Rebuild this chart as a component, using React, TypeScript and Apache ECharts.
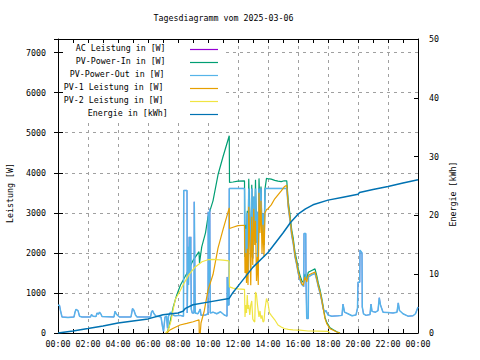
import React, { useEffect, useRef } from "react";
import * as echarts from "echarts";

type Pt = [number, number];

const chartTitle = "Tagesdiagramm vom 2025-03-06";
const leftAxisName = "Leistung [W]";
const rightAxisName = "Energie [kWh]";
const timeLabels = [
  "00:00", "02:00", "04:00", "06:00", "08:00", "10:00", "12:00",
  "14:00", "16:00", "18:00", "20:00", "22:00", "00:00",
];
const seriesNames = [
  "AC Leistung in [W]",
  "PV-Power-In in [W]",
  "PV-Power-Out in [W]",
  "PV-1 Leistung in [W]",
  "PV-2 Leistung in [W]",
  "Energie in [kWh]",
];
const seriesColors = ["#9400d3", "#009e73", "#56b4e9", "#e69f00", "#f0e442", "#0072b2"];

// x values are minutes since midnight
const pvOut: Pt[] = [
  [0, 690], [6, 690], [10, 560], [16, 400], [40, 390], [64, 400], [68, 520], [72, 590], [80, 560],
  [86, 420], [96, 400], [130, 400], [134, 460], [140, 420], [152, 410], [156, 500], [162, 470],
  [166, 520], [172, 470], [176, 410], [224, 400], [228, 540], [234, 470], [240, 430], [246, 400],
  [292, 400], [298, 610], [304, 560], [310, 450], [316, 400], [370, 400], [374, 520], [378, 560],
  [384, 480], [392, 420], [404, 410], [412, 400], [418, 160], [422, 40], [428, 400], [434, 420],
  [438, 120], [442, 420], [450, 520], [456, 460], [468, 430], [488, 440], [502, 420],
  [503, 3560], [516, 3560], [517, 500], [520, 2150], [522, 1200], [525, 2400], [528, 1500],
  [531, 2400], [533, 600], [537, 500], [544, 500], [545, 3275], [549, 500], [560, 480], [569, 600],
  [572, 440], [590, 450], [600, 480], [601, 3025], [604, 1000], [607, 3100], [609, 500], [620, 520],
  [635, 480], [650, 530], [665, 450], [676, 420], [677, 1400], [680, 700], [684, 700],
  [685, 3610], [746, 3610], [747, 2000], [751, 2600], [754, 1750], [757, 3000], [760, 1520],
  [763, 3610], [767, 2700], [771, 1890], [775, 3610], [779, 1860], [783, 3400], [787, 2450],
  [790, 3610], [794, 2250], [797, 3025], [801, 1750], [804, 3610], [808, 3000], [812, 3610],
  [816, 2440], [820, 2975], [824, 2200], [828, 3600], [834, 3610], [915, 3610], [921, 3150],
  [928, 2800], [935, 2430], [941, 2230], [948, 1900], [955, 1700], [961, 1490], [968, 1330],
  [975, 1210], [983, 1160], [984, 2485], [991, 2485], [992, 1300], [995, 360], [1001, 360],
  [1002, 1400], [1015, 1450], [1028, 1490], [1035, 1330], [1041, 1160], [1048, 1000], [1055, 800],
  [1061, 600], [1066, 520], [1072, 560], [1080, 450], [1095, 420], [1120, 430], [1136, 440],
  [1140, 720], [1146, 520], [1160, 480], [1176, 430], [1192, 450], [1198, 620], [1200, 1270],
  [1207, 1270], [1208, 2070], [1216, 2000], [1217, 650], [1222, 480], [1232, 440], [1248, 460],
  [1252, 720], [1256, 540], [1270, 520], [1280, 560], [1285, 880], [1290, 700], [1300, 520],
  [1320, 510], [1340, 500], [1356, 520], [1361, 750], [1366, 560], [1380, 480], [1400, 420],
  [1420, 430], [1430, 480], [1440, 650],
];

// AC power coincides with PV-Power-Out in the picture (drawn underneath)
const acPower: Pt[] = pvOut;

const pvIn: Pt[] = [
  [436, 0], [444, 150], [461, 650], [475, 950], [490, 1200], [515, 1485], [541, 1820], [564, 2030],
  [566, 1750], [575, 2150], [590, 2500], [600, 2900], [620, 3300], [640, 3950], [660, 4400],
  [685, 4925], [686, 3760], [700, 3770], [720, 3790], [746, 3800], [748, 1900], [751, 2700],
  [754, 1750], [757, 3050], [760, 1800], [763, 3850], [767, 2750], [771, 1890], [775, 3700],
  [779, 2050], [783, 3400], [787, 2475], [790, 3825], [794, 2250], [798, 2600], [801, 1750],
  [804, 3860], [808, 3050], [812, 3660], [816, 2440], [820, 2975], [824, 2200], [828, 3600],
  [834, 3860], [840, 3850], [846, 3850], [853, 3840], [867, 3810], [880, 3790], [893, 3780],
  [905, 3800], [915, 3800], [921, 3290], [928, 2950], [935, 2570], [941, 2360], [948, 2020],
  [955, 1815], [961, 1605], [968, 1440], [975, 1310], [981, 1265], [988, 1475], [995, 1350],
  [1001, 1515], [1015, 1560], [1028, 1600], [1035, 1430], [1041, 1250], [1048, 1080], [1055, 870],
  [1061, 650], [1068, 390], [1075, 265], [1088, 130], [1101, 80], [1115, 30], [1128, 0],
];

const pv1: Pt[] = [
  [436, 0], [444, 60], [461, 120], [488, 200], [515, 240], [541, 280], [564, 330], [565, 0],
  [569, 0], [572, 250], [585, 550], [600, 1070], [620, 1460], [640, 2120], [660, 2580],
  [685, 3125], [686, 2610], [700, 2640], [720, 2680], [746, 2690], [748, 1500], [751, 2000],
  [754, 1250], [757, 2100], [760, 1200], [763, 3150], [767, 2300], [771, 1190], [775, 2900],
  [779, 1700], [783, 3100], [787, 2200], [790, 2800], [794, 1300], [798, 1900], [801, 1200],
  [804, 3500], [808, 2500], [812, 3300], [816, 2000], [820, 2700], [824, 1900], [828, 3000],
  [834, 3080], [840, 3100], [846, 3150], [853, 3200], [867, 3350], [880, 3450], [893, 3550],
  [905, 3650], [915, 3690], [921, 3190], [928, 2860], [935, 2485], [941, 2275], [948, 1940],
  [955, 1735], [961, 1525], [968, 1360], [975, 1235], [981, 1190], [988, 1400], [995, 1275],
  [1001, 1440], [1015, 1485], [1028, 1525], [1035, 1360], [1041, 1190], [1048, 1025], [1055, 820],
  [1061, 610], [1068, 360], [1075, 235], [1088, 110], [1101, 70], [1115, 25], [1128, 0],
];

const pv2: Pt[] = [
  [430, 0], [440, 60], [452, 300], [461, 600], [470, 850], [488, 1050], [500, 1200], [523, 1450],
  [549, 1650], [576, 1780], [600, 1830], [620, 1840], [660, 1820], [684, 1800], [686, 1150],
  [700, 1120], [720, 1100], [746, 1090], [748, 400], [751, 700], [754, 500], [757, 950], [760, 600],
  [763, 700], [767, 450], [771, 700], [775, 800], [779, 350], [783, 300], [787, 275], [790, 1025],
  [794, 950], [798, 700], [801, 550], [804, 400], [808, 550], [812, 360], [816, 440], [820, 275],
  [824, 300], [828, 600], [834, 860], [840, 750], [846, 500], [853, 440], [867, 330], [880, 200],
  [893, 150], [905, 110], [915, 100], [921, 90], [940, 80], [968, 70], [1000, 50], [1040, 45],
  [1080, 40], [1088, 0],
];

const energy: Pt[] = [
  [0, 0], [60, 0.35], [120, 0.75], [180, 1.2], [240, 1.7], [300, 2.05], [360, 2.4], [420, 3.1],
  [480, 3.4], [500, 3.7], [510, 4.2], [540, 4.8], [600, 5.25], [684, 5.85], [700, 6.9], [728, 8.4],
  [780, 11.2], [840, 13.7], [900, 17.0], [930, 18.8], [960, 20.2], [990, 21.1], [1020, 21.8],
  [1080, 22.6], [1140, 23.1], [1200, 23.6], [1206, 23.9], [1260, 24.4], [1320, 24.9],
  [1380, 25.5], [1440, 26.05],
];

const powerMax = 7340;
const energyMax = 50;

const FONT = "'DejaVu Sans Mono', monospace";
const FS = 8.3;

export default function App() {
  const ref = useRef<HTMLDivElement>(null);

  useEffect(() => {
    if (!ref.current) return;
    const chart = echarts.init(ref.current, undefined, { renderer: "svg" });

    const gridLine = { show: true, lineStyle: { color: "#a0a0a0", type: [3, 4] as number[], width: 1 } };
    const black = { color: "#000", width: 1 };
    const lbl = { color: "#000", fontFamily: FONT, fontSize: FS };

    const dataSets = [acPower, pvIn, pvOut, pv1, pv2, energy];
    const widths = [0.6, 1.2, 1.5, 1.2, 1.2, 1.5];

    const legendTextX = [75.7, 75.7, 69.7, 63.7, 63.7, 87.7];
    const legendGraphics: any[] = [
      {
        type: "rect",
        shape: { x: 63.5, y: 43.5, width: 160, height: 76 },
        style: { fill: "#fff" },
        z: 100,
      },
    ];
    seriesNames.forEach((name, i) => {
      legendGraphics.push({
        type: "text",
        x: legendTextX[i],
        y: 47.8 + i * 13,
        z: 101,
        style: { text: name, fill: "#000", font: `${FS}px ${FONT}`, align: "left", verticalAlign: "middle" },
      });
      legendGraphics.push({
        type: "line",
        z: 101,
        shape: { x1: 190, y1: 49.5 + i * 13, x2: 218, y2: 49.5 + i * 13 },
        style: { stroke: seriesColors[i], lineWidth: 1.2 },
      });
    });

    chart.setOption({
      animation: false,
      grid: { left: 58, top: 39, width: 360, height: 294, containLabel: false },
      xAxis: [
        {
          type: "value",
          min: 0,
          max: 1440,
          interval: 120,
          position: "bottom",
          axisLine: { show: true, onZero: false, lineStyle: black },
          axisTick: { show: true, inside: true, length: 4, lineStyle: black },
          minorTick: { show: true, splitNumber: 2, length: 4, lineStyle: black },
          axisLabel: {
            ...lbl,
            margin: 7,
            showMinLabel: true,
            showMaxLabel: true,
            formatter: (v: number) => timeLabels[Math.round(v / 120)] ?? "",
          },
          splitLine: gridLine,
        },
        {
          type: "value",
          min: 0,
          max: 1440,
          interval: 120,
          position: "top",
          axisLine: { show: true, onZero: false, lineStyle: black },
          axisTick: { show: true, inside: true, length: 4, lineStyle: black },
          minorTick: { show: true, splitNumber: 2, length: 4, lineStyle: black },
          axisLabel: { show: false },
          splitLine: { show: false },
        },
      ],
      yAxis: [
        {
          type: "value",
          min: 0,
          max: powerMax,
          interval: 1000,
          position: "left",
          axisLine: { show: true, onZero: false, lineStyle: black },
          axisTick: { show: true, inside: true, length: 5, lineStyle: black },
          axisLabel: {
            ...lbl,
            margin: 12,
            showMaxLabel: false,
            formatter: (v: number) => (v % 1000 === 0 ? String(v) : ""),
          },
          splitLine: gridLine,
        },
        {
          type: "value",
          min: 0,
          max: energyMax,
          interval: 10,
          position: "right",
          axisLine: { show: true, onZero: false, lineStyle: black },
          axisTick: { show: true, inside: true, length: 4, lineStyle: black },
          axisLabel: { ...lbl, margin: 11 },
          splitLine: { show: false },
        },
        {
          type: "value",
          min: 0,
          max: powerMax,
          interval: 1000,
          position: "right",
          axisLine: { show: false },
          axisTick: { show: true, inside: true, length: 4, lineStyle: black },
          axisLabel: { show: false },
          splitLine: { show: false },
        },
      ],
      series: seriesNames.map((name, i) => ({
        name,
        type: "line",
        xAxisIndex: 0,
        yAxisIndex: i === 5 ? 1 : 0,
        data: dataSets[i],
        showSymbol: false,
        symbol: "none",
        clip: true,
        lineStyle: { color: seriesColors[i], width: widths[i] },
        itemStyle: { color: seriesColors[i] },
        emphasis: { disabled: true },
      })),
      graphic: [
        {
          type: "text",
          x: 223.5,
          y: 18,
          style: { text: chartTitle, fill: "#000", font: `${FS}px ${FONT}`, align: "center", verticalAlign: "middle" },
        },
        {
          type: "text",
          x: 9.7,
          y: 193,
          rotation: Math.PI / 2,
          style: { text: leftAxisName, fill: "#000", font: `${FS}px ${FONT}`, align: "center", verticalAlign: "middle" },
        },
        {
          type: "text",
          x: 452.7,
          y: 194,
          rotation: Math.PI / 2,
          style: { text: rightAxisName, fill: "#000", font: `${FS}px ${FONT}`, align: "center", verticalAlign: "middle" },
        },
        ...legendGraphics,
      ],
    });

    return () => chart.dispose();
  }, []);

  return (
    <div
      ref={ref}
      style={{ position: "fixed", left: 0, top: 0, width: 480, height: 360, background: "#fff" }}
    />
  );
}
